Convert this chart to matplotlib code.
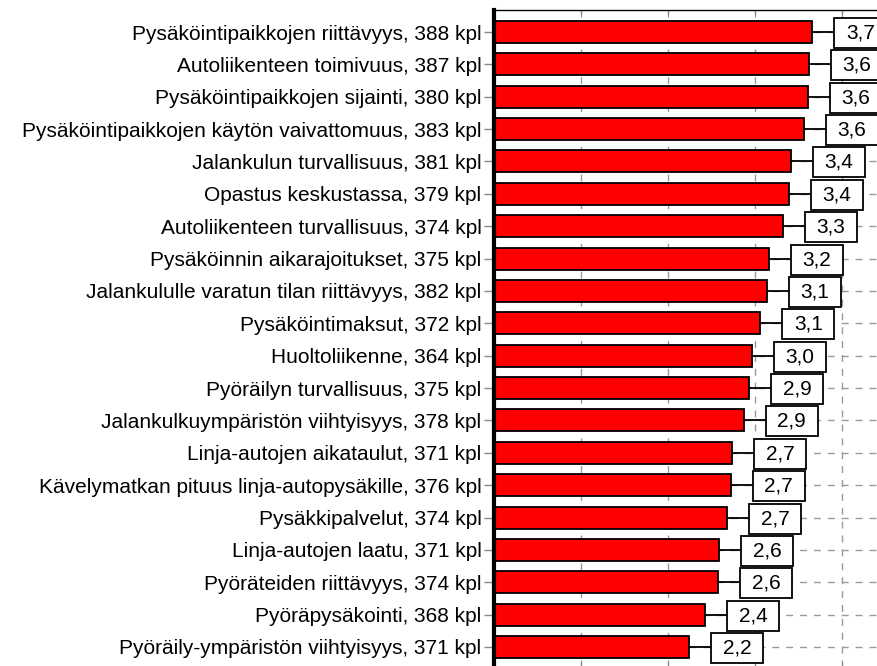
import numpy as np
import matplotlib
matplotlib.use("Agg")
import matplotlib.pyplot as plt
from matplotlib.patches import Rectangle

plt.rcParams['font.family'] = ['Liberation Sans', 'DejaVu Sans']

categories = [
    "Pysäköintipaikkojen riittävyys, 388 kpl",
    "Autoliikenteen toimivuus, 387 kpl",
    "Pysäköintipaikkojen sijainti, 380 kpl",
    "Pysäköintipaikkojen käytön vaivattomuus, 383 kpl",
    "Jalankulun turvallisuus, 381 kpl",
    "Opastus keskustassa, 379 kpl",
    "Autoliikenteen turvallisuus, 374 kpl",
    "Pysäköinnin aikarajoitukset, 375 kpl",
    "Jalankululle varatun tilan riittävyys, 382 kpl",
    "Pysäköintimaksut, 372 kpl",
    "Huoltoliikenne, 364 kpl",
    "Pyöräilyn turvallisuus, 375 kpl",
    "Jalankulkuympäristön viihtyisyys, 378 kpl",
    "Linja-autojen aikataulut, 371 kpl",
    "Kävelymatkan pituus linja-autopysäkille, 376 kpl",
    "Pysäkkipalvelut, 374 kpl",
    "Linja-autojen laatu, 371 kpl",
    "Pyöräteiden riittävyys, 374 kpl",
    "Pyöräpysäkointi, 368 kpl",
    "Pyöräily-ympäristön viihtyisyys, 371 kpl",
]
means = [3.66, 3.62, 3.61, 3.56, 3.41, 3.39, 3.32, 3.16, 3.14, 3.06,
         2.96, 2.93, 2.87, 2.74, 2.72, 2.68, 2.59, 2.58, 2.43, 2.24]
x_ticks = [0, 1, 2, 3, 4, 5]

W, H = 878, 666
fig = plt.figure(figsize=(W / 100, H / 100), dpi=100)
ax = fig.add_axes([494 / W, -3 / H, 435 / W, 659 / H])

y = np.arange(len(categories))
ax.barh(y, means, height=0.68, color='#ff0000', edgecolor='black',
        linewidth=1.3, zorder=2)

px_x = 1 / 87.0      # data units per pixel (x)
px_y = 1 / 32.4      # data units per pixel (y)
gap = 22 * px_x
bw = 52 * px_x
bh = 30 * px_y
for yi, v in zip(y, means):
    ax.plot([v, v + gap], [yi, yi], color='black', lw=1.3, zorder=3,
            solid_capstyle='butt')
    ax.add_patch(Rectangle((v + gap, yi - bh / 2 + 1 * px_y), bw, bh,
                           facecolor='white', edgecolor='black', lw=1.3,
                           zorder=4))
    ax.text(v + gap + bw / 2, yi + 1 * px_y, f"{v:.1f}".replace('.', ','),
            ha='center', va='center', fontsize=15, zorder=5)

ax.set_xlim(0, 5)
ax.set_ylim(len(categories) - 1 + 0.68, -0.68)
ax.set_xticks(x_ticks)
ax.set_yticks(y)
ax.set_yticklabels(categories, fontsize=15)
ax.set_axisbelow(True)
ax.grid(True, axis='both', linestyle=(0, (5, 5)), color='#9a9a9a',
        linewidth=1.0, zorder=0)

for s in ['right', 'bottom']:
    ax.spines[s].set_visible(False)
ax.spines['left'].set_linewidth(3)
ax.spines['left'].set_color('black')
ax.spines['top'].set_linewidth(1)
ax.spines['top'].set_color('black')

ax.tick_params(axis='y', length=7, width=1, color='#888888', pad=2)
ax.tick_params(axis='x', which='both', top=True, bottom=True,
               labeltop=False, labelbottom=False, direction='in',
               length=5, color='#888888')

fig.savefig('out.png', dpi=100)
